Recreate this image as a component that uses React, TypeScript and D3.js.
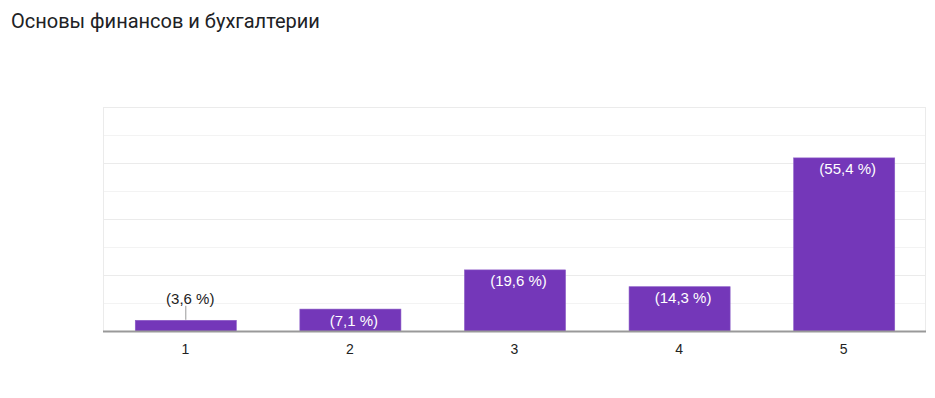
import React from 'react';
import * as d3 from 'd3';

const title = 'Основы финансов и бухгалтерии';
const categories = ['1', '2', '3', '4', '5'];
const counts = [2, 4, 11, 8, 31];
const labels = ['(3,6 %)', '(7,1 %)', '(19,6 %)', '(14,3 %)', '(55,4 %)'];
const majorTicks = [0, 10, 20, 30, 40];
const minorTicks = [5, 15, 25, 35];

const W = 935, H = 398;
const L = 103, R = 926, T = 107, B = 331;

export default function App() {
  const x = d3.scaleBand<string>().domain(categories).range([L, R]).paddingInner(0.386).paddingOuter(0.193);
  const y = d3.scaleLinear().domain([0, 40]).range([B, T]);
  const bw = x.bandwidth();
  const font = "Arial, 'Liberation Sans', sans-serif";
  return (
    <svg width={W} height={H} style={{ position: 'absolute', left: 0, top: 0, background: '#fff' }}>
      <text x={11} y={28} fontFamily="Roboto, sans-serif" fontSize={20} fill="#202124">{title}</text>
      {minorTicks.map(t => (
        <line key={'m' + t} x1={L} x2={R} y1={Math.round(y(t)) + 0.5} y2={Math.round(y(t)) + 0.5} stroke="#f3f3f3" />
      ))}
      {majorTicks.map(t => (
        <line key={'M' + t} x1={L} x2={R} y1={Math.round(y(t)) + 0.5} y2={Math.round(y(t)) + 0.5} stroke="#ebebeb" />
      ))}
      <line x1={L + 0.5} x2={L + 0.5} y1={T} y2={B} stroke="#ebebeb" />
      <line x1={R - 0.5} x2={R - 0.5} y1={T} y2={B} stroke="#ebebeb" />
      {categories.map((c, i) => {
        const x0 = x(c)!;
        const top = y(counts[i]);
        const h = B - top;
        const cx = x0 + bw / 2;
        const inside = h >= 20;
        return (
          <g key={c}>
            <rect x={x0 + 0.5} y={top + 0.5} width={bw} height={h} fill="#7437b9" stroke="#8a5bc6" strokeWidth={0.6} />
            {inside ? (
              <text x={cx + 4} y={top + 17} textAnchor="middle" fontFamily={font} fontSize={15} fill="#ffffff">{labels[i]}</text>
            ) : (
              <g>
                <line x1={cx + 0.5} x2={cx + 0.5} y1={top - 14} y2={top} stroke="#999" />
                <text x={cx + 5} y={top - 16} textAnchor="middle" fontFamily={font} fontSize={15} fill="#222">{labels[i]}</text>
              </g>
            )}
            <text x={cx} y={354} textAnchor="middle" fontFamily={font} fontSize={14} fill="#222">{c}</text>
          </g>
        );
      })}
      <line x1={L} x2={R} y1={B + 0.5} y2={B + 0.5} stroke="#999" strokeWidth={2} />
    </svg>
  );
}
